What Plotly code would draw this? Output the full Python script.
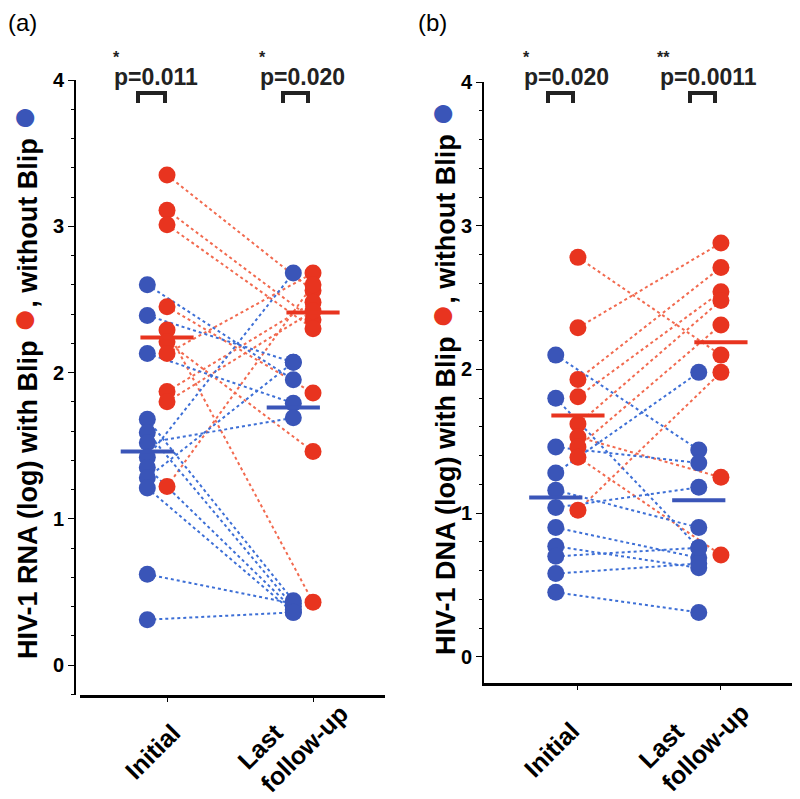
import plotly.graph_objects as go

W, H = 800, 799

categories = ["Initial", "Last<br>follow-up"]

# (a) HIV-1 RNA (log)
rna_red_initial = [3.35, 3.11, 3.01, 2.45, 2.29, 2.21, 2.13, 1.87, 1.80, 1.22]
rna_red_last = [2.56, 2.36, 2.30, 1.86, 0.43, 1.46, 2.68, 2.48, 2.42, 2.60]
rna_blue_initial = [2.60, 2.39, 2.13, 1.68, 1.59, 1.52, 1.42, 1.35, 1.28, 1.21, 0.62, 0.31]
rna_blue_last = [1.95, 2.07, 1.79, 0.44, 0.40, 1.69, 2.68, 0.38, 2.07, 0.36, 0.42, 0.36]
rna_red_median = [2.24, 2.41]
rna_blue_median = [1.46, 1.76]

# (b) HIV-1 DNA (log)
dna_red_initial = [2.78, 2.29, 1.93, 1.81, 1.62, 1.53, 1.46, 1.39, 1.02]
dna_red_last = [2.10, 2.88, 2.71, 2.54, 2.48, 1.25, 2.31, 0.71, 1.98]
dna_blue_initial = [2.10, 1.80, 1.46, 1.28, 1.16, 1.04, 0.90, 0.77, 0.70, 0.58, 0.45]
dna_blue_last = [1.44, 0.76, 1.35, 1.98, 0.90, 1.18, 0.69, 0.62, 0.76, 0.65, 0.31]
dna_red_median = [1.68, 2.19]
dna_blue_median = [1.11, 1.09]

RED = "#e8341f"
BLUE = "#3a55b8"
RED_LINE = "#f26a4f"
BLUE_LINE = "#3d6fd6"
FONT = "Liberation Sans, Arial, sans-serif"

fig = go.Figure()


def add_panel(xa, ya, red0, red1, blue0, blue1, red_med, blue_med, off):
    # connecting dotted lines
    for v0, v1, col in [(red0, red1, RED_LINE), (blue0, blue1, BLUE_LINE)]:
        shift = 0 if col == RED_LINE else -off
        xs, ys = [], []
        for a, b in zip(v0, v1):
            xs += [0 + shift, 1 + shift, None]
            ys += [a, b, None]
        fig.add_trace(go.Scatter(x=xs, y=ys, mode="lines", xaxis=xa, yaxis=ya,
                                 line=dict(color=col, width=2, dash="dot"),
                                 showlegend=False, hoverinfo="skip"))
    # points
    for v0, v1, col, shift in [(blue0, blue1, BLUE, -off), (red0, red1, RED, 0)]:
        fig.add_trace(go.Scatter(x=[0 + shift] * len(v0) + [1 + shift] * len(v1),
                                 y=list(v0) + list(v1), mode="markers",
                                 xaxis=xa, yaxis=ya,
                                 marker=dict(color=col, size=17, line=dict(width=0)),
                                 showlegend=False, cliponaxis=False))
    # median bars
    for med, col, shift in [(red_med, RED, 0), (blue_med, BLUE, -off)]:
        fig.add_trace(go.Scatter(x=[0 + shift, 1 + shift], y=med, mode="markers",
                                 xaxis=xa, yaxis=ya,
                                 marker=dict(symbol="line-ew", size=38,
                                             line=dict(color=col, width=4)),
                                 showlegend=False, cliponaxis=False))


add_panel("x", "y", rna_red_initial, rna_red_last, rna_blue_initial, rna_blue_last,
          rna_red_median, rna_blue_median, 0.135)
add_panel("x2", "y2", dna_red_initial, dna_red_last, dna_blue_initial, dna_blue_last,
          dna_red_median, dna_blue_median, 0.155)

# the page body adds an 8px margin, so shift everything up/left by it
def px(x):
    return (x - 8) / W


def py(y):
    return 1 - (y - 8) / H


tickfont = dict(family=FONT, size=20, color="black")
xcommon = dict(tickvals=[0, 1], showticklabels=False,
               showline=True, linecolor="black", linewidth=2.5,
               ticks="outside", ticklen=4, tickcolor="black", showgrid=False,
               zeroline=False, automargin=False)
ycommon = dict(tickvals=[0, 1, 2, 3, 4],
               ticktext=["<b>%d</b>" % i for i in range(5)],
               showline=True, linecolor="black", linewidth=2, ticks="outside",
               ticklen=6, tickcolor="black", showgrid=False, zeroline=False,
               tickfont=tickfont, automargin=False,
               minor=dict(dtick=0.2, tick0=0, ticks="outside", ticklen=3,
                          tickcolor="black"))

fig.update_layout(
    width=W, height=H, margin=dict(l=0, r=0, t=0, b=0, autoexpand=False),
    plot_bgcolor="white", paper_bgcolor="white", showlegend=False,
    xaxis=dict(xcommon, domain=[px(80), px(385)], range=[-0.596, 1.493], anchor="y"),
    yaxis=dict(ycommon, domain=[py(695), py(80)], range=[-0.205, 4.0],
               anchor="free", position=px(75)),
    xaxis2=dict(xcommon, domain=[px(484), px(792)], range=[-0.657, 1.497], anchor="y2"),
    yaxis2=dict(ycommon, domain=[py(683), py(82)], range=[-0.181, 4.0],
                anchor="x2"),
)

dot_r = '<span style="color:%s;font-size:42px">●</span>' % RED
dot_b = '<span style="color:%s;font-size:42px">●</span>' % BLUE
ann = []
for x, y, title in [(22, 382, "HIV-1 RNA (log) with Blip "),
                    (440, 378, "HIV-1 DNA (log) with Blip ")]:
    ann.append(dict(x=px(x), y=py(y), xref="paper", yref="paper", textangle=-90,
                    xanchor="center", yanchor="middle",
                    text="<b>%s%s, without Blip %s</b>" % (title, dot_r, dot_b),
                    showarrow=False, font=dict(family=FONT, size=27, color="black")))
for x, lab in [(22, "(a)"), (432, "(b)")]:
    ann.append(dict(x=px(x), y=py(22), xref="paper", yref="paper", text=lab,
                    xanchor="center", yanchor="middle",
                    showarrow=False, font=dict(family=FONT, size=24, color="black")))
# category labels under the x axes
for xs, ys in [((152, 292), (752, 737)), ((551, 693), (750, 736))]:
    for cx, cy, cat in zip(xs, ys, categories):
        ann.append(dict(x=px(cx), y=py(cy), xref="paper", yref="paper",
                        xanchor="center", yanchor="middle", textangle=-45, align="left",
                        text="<b>%s</b>" % cat, showarrow=False,
                        font=dict(family=FONT, size=25, color="black")))
pvals = [(112, "p=0.011", 116, "*"), (258, "p=0.020", 262, "*"),
         (522, "p=0.020", 526, "*"), (658, "p=0.0011", 663, "**")]
for x, t, sx, s in pvals:
    ann.append(dict(x=px(x), y=py(77), xref="paper", yref="paper", xanchor="left",
                    yanchor="middle", text="<b>%s</b>" % t, showarrow=False,
                    font=dict(family=FONT, size=23, color="#222")))
    ann.append(dict(x=px(sx), y=py(57), xref="paper", yref="paper", text="<b>%s</b>" % s,
                    xanchor="center", yanchor="middle",
                    showarrow=False, font=dict(family=FONT, size=16, color="#222")))
fig.update_layout(annotations=ann)

# significance brackets
for x0, x1 in [(138, 165), (283, 308), (548, 573), (690, 715)]:
    fig.add_shape(type="path", xref="paper", yref="paper",
                  path="M %f %f L %f %f L %f %f L %f %f" % (
                      px(x0), py(103), px(x0), py(93), px(x1), py(93), px(x1), py(103)),
                  line=dict(color="#222", width=4))

fig.write_html("out.html")
